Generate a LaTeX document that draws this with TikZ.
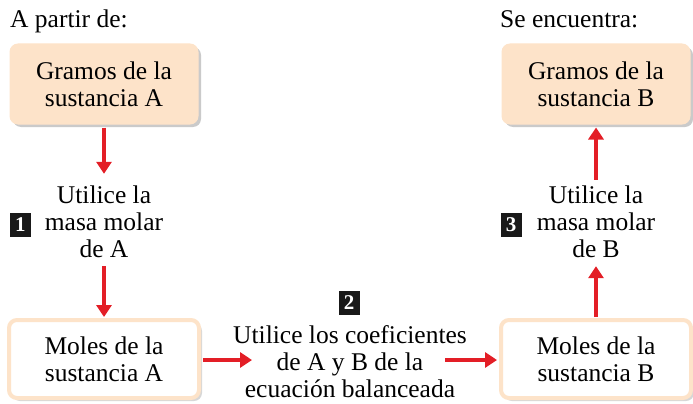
\documentclass[tikz,border=0pt]{standalone}
\usepackage{fontspec}
\setmainfont{Liberation Serif}
\usetikzlibrary{arrows.meta,shadows}
\definecolor{peach}{HTML}{FDE3C9}
\definecolor{arrred}{HTML}{E31E26}
\definecolor{shade}{HTML}{BDBDBD}
\tikzset{
  lbl/.style={font=\fontsize{25.5}{27}\selectfont, align=center, inner sep=0pt},
  gbox/.style={lbl, rounded corners=8pt, fill=peach, draw=peach, line width=1pt,
    minimum width=188pt, minimum height=80pt,
    drop shadow={shadow xshift=3pt, shadow yshift=-3pt, fill=shade, opacity=0.8}},
  mbox/.style={lbl, rounded corners=8pt, fill=white, draw=peach, line width=4pt,
    minimum width=190pt, minimum height=78pt,
    drop shadow={shadow xshift=3pt, shadow yshift=-3pt, fill=shade, opacity=0.6}},
  badge/.style={fill=black!90, text=white, font=\bfseries\fontsize{21}{21}\selectfont,
    minimum width=21pt, minimum height=24pt, inner sep=0pt},
  arr/.style={draw=arrred, line width=4pt, -{Triangle[width=15pt,length=12pt]}},
  hdr/.style={font=\fontsize{25.5}{27}\selectfont, inner sep=0pt, anchor=base west}
}
\begin{document}
\begin{tikzpicture}[x=1pt,y=-1pt]
\useasboundingbox (0,0) rectangle (693,404);
\node[hdr] (h1) at (10,28) {A partir de:};
\node[hdr] (h2) at (500,28) {Se encuentra:};
\node[gbox] (ga) at (104,84) {Gramos de la\\sustancia A};
\node[gbox] (gb) at (596,84) {Gramos de la\\sustancia B};
\node[mbox] (ma) at (104,359) {Moles de la\\sustancia A};
\node[mbox] (mb) at (596,359) {Moles de la\\sustancia B};
\node[lbl] (ua) at (104,222) {Utilice la\\masa molar\\de A};
\node[lbl] (ub) at (596,222) {Utilice la\\masa molar\\de B};
\node[lbl] (mid) at (350,362) {Utilice los coeficientes\\de A y B de la\\ecuación balanceada};
\node[badge] (b1) at (20.5,225) {1};
\node[badge] (b3) at (511,225) {3};
\node[badge] (b2) at (349,303) {2};
\coordinate (c1) at (252,360);
\coordinate (c2) at (445,360);
\draw[arr, shorten <=3pt, shorten >=12pt] (ga.south) -- (ua.north);
\draw[arr, shorten <=8pt, shorten >=1pt] (ua.south) -- (ma.north);
\draw[arr, shorten <=2pt] (ma.east |- c1) -- (c1);
\draw[arr, shorten >=2pt] (c2) -- (mb.west |- c2);
\draw[arr, shorten <=1pt, shorten >=8pt] (mb.north) -- (ub.south);
\draw[arr, shorten <=6pt, shorten >=3pt] (ub.north) -- (gb.south);
\end{tikzpicture}
\end{document}
